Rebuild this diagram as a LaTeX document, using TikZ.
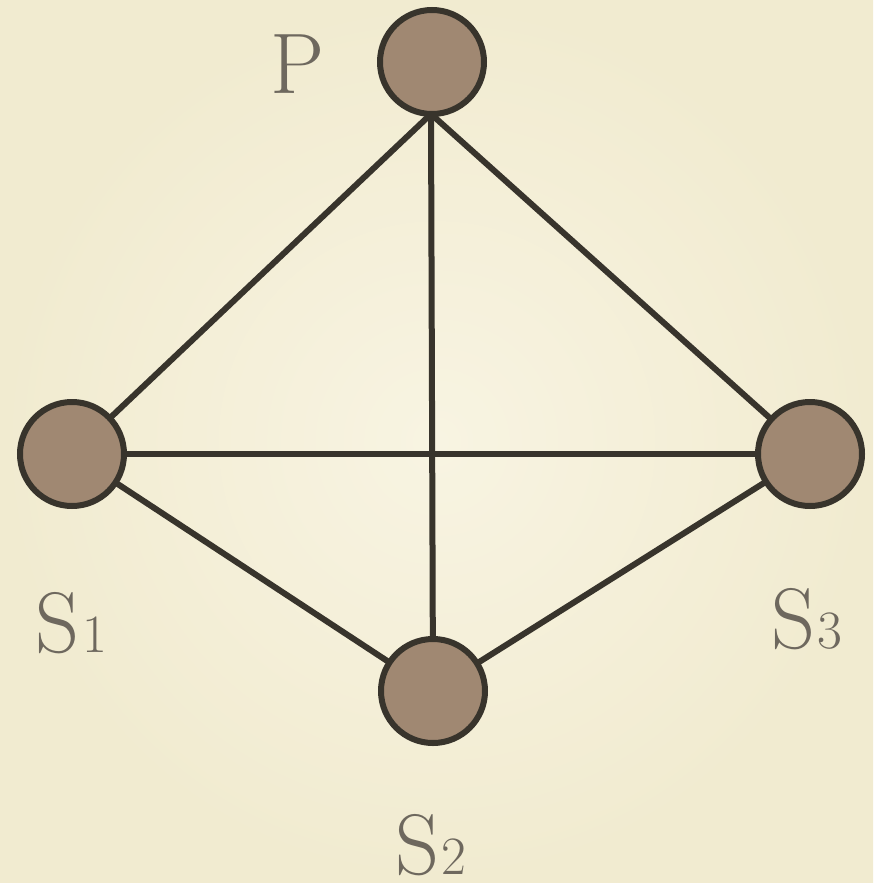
\documentclass[tikz,border=0pt]{standalone}
\definecolor{bgin}{RGB}{248,244,226}
\definecolor{bgout}{RGB}{241,235,208}
\definecolor{ballfill}{RGB}{160,136,114}
\definecolor{ink}{RGB}{56,52,44}
\definecolor{lab}{RGB}{110,104,94}
\tikzset{
  ball/.style={circle, draw=ink, fill=ballfill, line width=6pt, minimum size=104pt, inner sep=0pt},
  edge/.style={draw=ink, line width=6pt},
  lbl/.style={text=lab, anchor=base west, inner sep=0pt, font=\fontsize{86}{86}\selectfont}
}
\newcommand{\subdig}[1]{{\fontsize{54}{54}\selectfont #1}}
\begin{document}
\begin{tikzpicture}[x=1pt,y=-1pt]
  \shade[inner color=bgin, outer color=bgout] (0,0) rectangle (873,883);
  \useasboundingbox (0,0) rectangle (873,883);
  \coordinate (Pb) at (431,114);
  \coordinate (cS1) at (72,454);
  \coordinate (cS2) at (433,691);
  \coordinate (cS3) at (810,454);
  \draw[edge] (Pb) -- (cS1);
  \draw[edge] (Pb) -- (cS3);
  \draw[edge] (Pb) -- (cS2);
  \draw[edge] (cS1) -- (cS3);
  \draw[edge] (cS1) -- (cS2);
  \draw[edge] (cS2) -- (cS3);
  \node[ball] (nP) at (432,62) {};
  \node[ball] (nS1) at (cS1) {};
  \node[ball] (nS2) at (cS2) {};
  \node[ball] (nS3) at (cS3) {};
  \node[lbl] (lP) at (270,93) {P};
  \node[lbl] (lS1) at (35,652) {S\kern3pt\subdig{1}};
  \node[lbl] (lS3) at (771,648) {S\kern2pt\subdig{3}};
  \node[lbl] (lS2) at (395,874) {S\kern2pt\subdig{2}};
\end{tikzpicture}
\end{document}
